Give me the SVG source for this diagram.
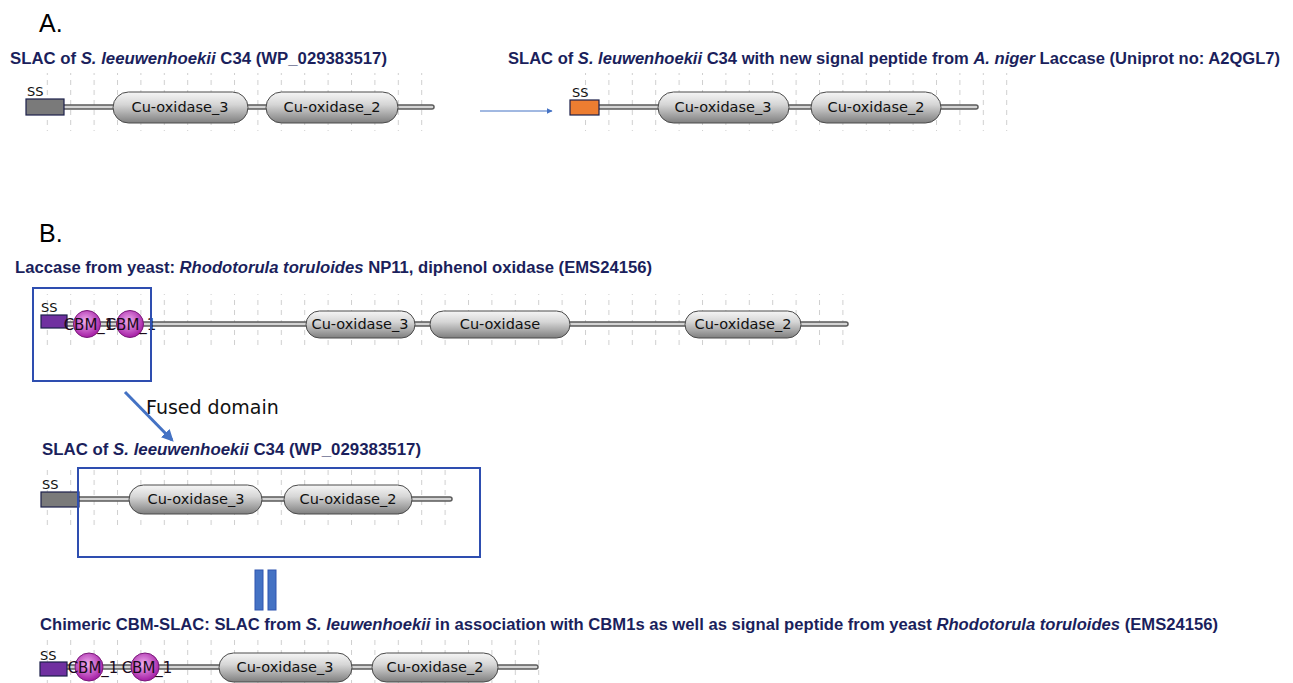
<svg xmlns="http://www.w3.org/2000/svg" width="1293" height="683" viewBox="0 0 1293 683">
<style>
.hdr{font-family:"Liberation Sans",Arial,sans-serif;font-size:25px;fill:#000}
.ttl{font-family:"Liberation Sans",Arial,sans-serif;font-size:16px;font-weight:bold;fill:#1b1f5c}
.it{font-style:italic}
.lbl{font-family:"DejaVu Sans",sans-serif;font-size:14.5px;fill:#111;text-anchor:middle}
.cl{font-family:"DejaVu Sans",sans-serif;font-size:15px;fill:#1a0a1a;text-anchor:middle}
.ss{font-family:"DejaVu Sans",sans-serif;font-size:13px;fill:#111}
.bbo{stroke:#5a5a5a;stroke-width:5.5;stroke-linecap:round;fill:none}
.bbi{stroke:#d4d4d4;stroke-width:2.6;stroke-linecap:round;fill:none}
.pill{fill:url(#pg);stroke:#4a4a4a;stroke-width:1}
.cbm{fill:url(#cg);stroke:#7a1a7a;stroke-width:1}
.box{fill:none;stroke:#2e4eb0;stroke-width:2}
.grid{fill:url(#gp)}
.fused{font-family:"DejaVu Sans",sans-serif;font-size:19px;fill:#111}
</style>
<defs>
<linearGradient id="pg" x1="0" y1="0" x2="0" y2="1">
<stop offset="0" stop-color="#f6f6f6"/>
<stop offset="0.4" stop-color="#d6d6d6"/>
<stop offset="1" stop-color="#7f7f7f"/>
</linearGradient>
<radialGradient id="cg" cx="0.45" cy="0.4" r="0.6">
<stop offset="0" stop-color="#f0b0f0"/>
<stop offset="1" stop-color="#a41ca4"/>
</radialGradient>
<pattern id="gp" patternUnits="userSpaceOnUse" x="0" y="0" width="23.4" height="10">
<line x1="0.5" y1="0" x2="0.5" y2="5" stroke="#cfcfcf" stroke-width="1"/>
</pattern>
<marker id="ah" viewBox="0 0 10 10" refX="9" refY="5" markerWidth="6" markerHeight="6" orient="auto" markerUnits="userSpaceOnUse">
<path d="M0,0 L10,5 L0,10 z" fill="#4472c4"/>
</marker>
<marker id="ah2" viewBox="0 0 10 10" refX="8" refY="5" markerWidth="4" markerHeight="4" orient="auto">
<path d="M0,0 L10,5 L0,10 z" fill="#4472c4"/>
</marker>
</defs>
<rect width="1293" height="683" fill="#fff"/>

<text class="hdr" x="39" y="32">A.</text>
<text class="hdr" x="39" y="242">B.</text>

<g id="slac-a">
<text class="ttl" x="10" y="64" textLength="377" lengthAdjust="spacingAndGlyphs">SLAC of <tspan class="it">S. leeuwenhoekii</tspan> C34 (WP_029383517)</text>
<rect class="grid" x="27.5" y="73" width="413" height="58"/>
<line class="bbo" x1="64" y1="107" x2="432" y2="107"/>
<line class="bbi" x1="64" y1="107" x2="432" y2="107"/>
<rect x="26" y="99" width="38" height="16" fill="#7a7a7a" stroke="#1b1f4a" stroke-width="1.2"/>
<text class="ss" x="27" y="96">SS</text>
<rect class="pill" x="113" y="92" width="135" height="31" rx="15.5"/>
<text class="lbl" x="180" y="112">Cu-oxidase_3</text>
<rect class="pill" x="266" y="92" width="132" height="31" rx="15.5"/>
<text class="lbl" x="332" y="112">Cu-oxidase_2</text>
</g>

<g id="slac-a-new">
<text class="ttl" x="508" y="64" textLength="772" lengthAdjust="spacingAndGlyphs">SLAC of <tspan class="it">S. leuwenhoekii</tspan> C34 with new signal peptide from <tspan class="it">A. niger</tspan> Laccase (Uniprot no: A2QGL7)</text>
<rect class="grid" x="569.5" y="73" width="440" height="58"/>
<line class="bbo" x1="599" y1="107" x2="976" y2="107"/>
<line class="bbi" x1="599" y1="107" x2="976" y2="107"/>
<rect x="570" y="100" width="29" height="15" fill="#ed7d31" stroke="#1b1f4a" stroke-width="1.2"/>
<text class="ss" x="572" y="97">SS</text>
<rect class="pill" x="658" y="92" width="131" height="31" rx="15.5"/>
<text class="lbl" x="723" y="112">Cu-oxidase_3</text>
<rect class="pill" x="811" y="92" width="130" height="31" rx="15.5"/>
<text class="lbl" x="876" y="112">Cu-oxidase_2</text>
</g>

<g id="laccase-yeast">
<text class="ttl" x="15" y="273" textLength="637" lengthAdjust="spacingAndGlyphs">Laccase from yeast: <tspan class="it">Rhodotorula toruloides</tspan> NP11, diphenol oxidase (EMS24156)</text>
<rect class="grid" x="41.5" y="294" width="812" height="52"/>
<line class="bbo" x1="67" y1="324" x2="846" y2="324"/>
<line class="bbi" x1="67" y1="324" x2="846" y2="324"/>
<rect x="41" y="315" width="26" height="13" fill="#7030a0" stroke="#1b1f4a" stroke-width="1.2"/>
<text class="ss" x="41" y="312">SS</text>
<circle class="cbm" cx="87" cy="324" r="13.5"/>
<circle class="cbm" cx="130" cy="324" r="13.5"/>
<text class="cl" x="89" y="330">CBM_1</text>
<text class="cl" x="131" y="330">CBM_1</text>
<rect class="pill" x="306" y="311" width="109" height="27" rx="13.5"/>
<text class="lbl" x="360" y="329">Cu-oxidase_3</text>
<rect class="pill" x="430" y="311" width="140" height="27" rx="13.5"/>
<text class="lbl" x="500" y="329">Cu-oxidase</text>
<rect class="pill" x="685" y="311" width="116" height="27" rx="13.5"/>
<text class="lbl" x="743" y="329">Cu-oxidase_2</text>
<rect class="box" x="33" y="288" width="118" height="93"/>
</g>

<text class="fused" x="146" y="414">Fused domain</text>

<g id="slac-b">
<text class="ttl" x="42" y="455" textLength="379" lengthAdjust="spacingAndGlyphs">SLAC of <tspan class="it">S. leeuwenhoekii</tspan> C34 (WP_029383517)</text>
<rect class="grid" x="41.5" y="470" width="420" height="60"/>
<line class="bbo" x1="79" y1="499" x2="450" y2="499"/>
<line class="bbi" x1="79" y1="499" x2="450" y2="499"/>
<rect x="41" y="492" width="38" height="15" fill="#7a7a7a" stroke="#1b1f4a" stroke-width="1.2"/>
<text class="ss" x="42" y="489">SS</text>
<rect class="pill" x="129" y="485" width="133" height="29" rx="14.5"/>
<text class="lbl" x="196" y="504">Cu-oxidase_3</text>
<rect class="pill" x="284" y="485" width="128" height="29" rx="14.5"/>
<text class="lbl" x="348" y="504">Cu-oxidase_2</text>
<rect class="box" x="78" y="468" width="402" height="89"/>
</g>

<g id="chimeric">
<text class="ttl" x="40" y="630" textLength="1178" lengthAdjust="spacingAndGlyphs">Chimeric CBM-SLAC: SLAC from <tspan class="it">S. leuwenhoekii</tspan>  in association with CBM1s as well as signal peptide from yeast <tspan class="it">Rhodotorula toruloides</tspan> (EMS24156)</text>
<rect class="grid" x="40.5" y="640" width="505" height="43"/>
<line class="bbo" x1="67" y1="667" x2="536" y2="667"/>
<line class="bbi" x1="67" y1="667" x2="536" y2="667"/>
<rect x="40" y="662" width="27" height="14" fill="#7030a0" stroke="#1b1f4a" stroke-width="1.2"/>
<text class="ss" x="40" y="660">SS</text>
<circle class="cbm" cx="89" cy="667" r="14"/>
<circle class="cbm" cx="145" cy="667" r="14"/>
<text class="cl" x="93" y="673">CBM_1</text>
<text class="cl" x="147" y="673">CBM_1</text>
<rect class="pill" x="219" y="653" width="133" height="29" rx="14.5"/>
<text class="lbl" x="285" y="672">Cu-oxidase_3</text>
<rect class="pill" x="372" y="653" width="126" height="29" rx="14.5"/>
<text class="lbl" x="435" y="672">Cu-oxidase_2</text>
</g>

<g id="connectors">
<line x1="480" y1="111" x2="552" y2="111" stroke="#4472c4" stroke-width="1" marker-end="url(#ah)"/>
<line x1="125" y1="392" x2="172" y2="440" stroke="#4472c4" stroke-width="3" marker-end="url(#ah2)"/>
<rect x="255" y="570" width="8" height="40" fill="#4472c4" stroke="#2f55b0" stroke-width="1"/>
<rect x="268" y="570" width="8" height="40" fill="#4472c4" stroke="#2f55b0" stroke-width="1"/>
</g>
</svg>
